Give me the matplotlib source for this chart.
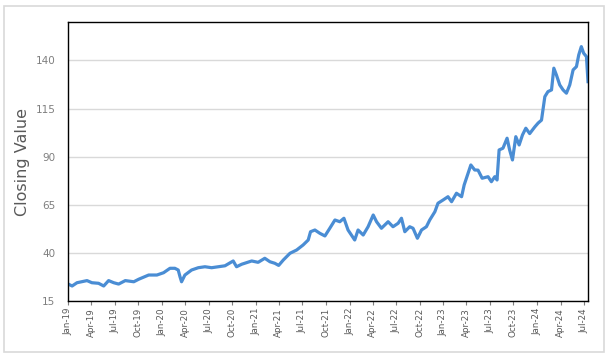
import numpy as np
import pandas as pd
import matplotlib
matplotlib.use("Agg")
import matplotlib.pyplot as plt
import matplotlib.dates as mdates
from matplotlib.patches import Rectangle

# closing values (irregular sample dates)
dates = [
    "2019-01-02", "2019-01-17", "2019-02-05", "2019-03-16", "2019-04-04", "2019-04-30",
    "2019-05-20", "2019-06-08", "2019-06-28", "2019-07-17", "2019-08-12", "2019-09-14",
    "2019-10-03", "2019-11-11", "2019-12-13", "2020-01-08", "2020-02-02", "2020-02-21",
    "2020-03-05", "2020-03-12", "2020-03-18", "2020-03-31", "2020-04-26", "2020-05-22",
    "2020-06-17", "2020-07-13", "2020-08-08", "2020-09-03", "2020-10-05", "2020-10-18",
    "2020-11-07", "2020-12-16", "2021-01-10", "2021-02-05", "2021-02-25", "2021-03-16",
    "2021-03-31", "2021-04-18", "2021-05-14", "2021-06-09", "2021-07-04", "2021-07-24",
    "2021-08-02", "2021-08-19", "2021-09-07", "2021-09-27", "2021-10-16", "2021-11-05",
    "2021-11-24", "2021-12-10", "2021-12-26", "2022-01-21", "2022-02-03", "2022-02-23",
    "2022-03-14", "2022-04-03", "2022-04-16", "2022-05-05", "2022-05-31", "2022-06-19",
    "2022-07-09", "2022-07-22", "2022-08-04", "2022-08-23", "2022-09-05", "2022-09-22",
    "2022-10-08", "2022-10-27", "2022-11-09", "2022-11-29", "2022-12-11", "2022-12-31",
    "2023-01-19", "2023-02-02", "2023-02-21", "2023-03-13", "2023-03-23", "2023-04-05",
    "2023-04-18", "2023-05-03", "2023-05-16", "2023-06-01", "2023-06-24", "2023-07-07",
    "2023-07-20", "2023-07-29", "2023-08-06", "2023-08-21", "2023-09-06", "2023-09-16",
    "2023-09-27", "2023-10-10", "2023-10-23", "2023-11-05", "2023-11-18", "2023-12-03",
    "2023-12-23", "2024-01-05", "2024-01-18", "2024-01-31", "2024-02-12", "2024-02-26",
    "2024-03-06", "2024-03-16", "2024-03-29", "2024-04-11", "2024-04-24", "2024-05-07",
    "2024-05-20", "2024-06-02", "2024-06-11", "2024-06-21", "2024-06-30", "2024-07-11",
    "2024-07-17",
]
closing = [
    23.8, 22.8, 24.5, 25.6, 24.5, 24.2,
    22.8, 25.6, 24.5, 23.8, 25.6, 25.0,
    26.3, 28.5, 28.5, 29.7, 32.0, 32.0,
    31.1, 27.6, 25.0, 28.5, 31.1, 32.3,
    32.8, 32.3, 32.8, 33.3, 35.8, 32.8,
    34.1, 35.8, 35.1, 37.2, 35.4, 34.6,
    33.5, 36.3, 39.8, 41.5, 44.1, 46.7,
    51.0, 51.9, 50.2, 48.8, 52.8, 57.1,
    56.2, 58.0, 51.9, 46.7, 51.9, 49.3,
    53.6, 59.7, 56.2, 52.8, 56.2, 53.6,
    55.4, 58.0, 51.0, 53.6, 52.8, 47.6,
    51.9, 53.6, 57.1, 61.4, 65.8, 67.5,
    69.2, 66.6, 71.0, 69.2, 75.3, 80.5,
    85.7, 83.1, 83.0, 78.8, 79.6, 77.0,
    79.6, 77.9, 93.5, 94.4, 99.6, 93.5,
    88.3, 100.4, 96.1, 101.3, 104.8, 102.0,
    105.5, 107.5, 109.0, 121.2, 123.8, 124.7,
    136.0, 132.5, 127.3, 124.7, 123.0, 127.3,
    135.1, 136.8, 142.9, 147.2, 143.8, 142.0,
    129.0,
]
yticks = [15, 40, 65, 90, 115, 140]

x = pd.to_datetime(dates)

fig = plt.figure(figsize=(6.12, 3.58), dpi=100)
fig.patches.append(Rectangle((4 / 612, 6 / 358), 600 / 612, 346 / 358, transform=fig.transFigure,
                             fill=False, edgecolor="#d9d9d9", linewidth=1.2))
ax = fig.add_axes([68 / 612, 1 - 301 / 358, 520 / 612, 279 / 358])

ax.plot(x, closing, color="#4a8dd4", linewidth=2.3, solid_joinstyle="round")

ax.set_ylim(15, 160)
ax.set_yticks(yticks)
ax.set_xlim(pd.Timestamp("2019-01-01"), pd.Timestamp("2024-07-17"))
ax.xaxis.set_major_locator(mdates.MonthLocator(bymonth=[1, 4, 7, 10]))
ax.xaxis.set_major_formatter(mdates.DateFormatter("%b-%y"))
ax.grid(axis="y", color="#d9d9d9", linewidth=1)
ax.set_axisbelow(True)
for s in ax.spines.values():
    s.set_color("black"); s.set_linewidth(1)
ax.tick_params(axis="y", length=0, pad=9, labelsize=7.5, labelcolor="#7f7f7f")
ax.tick_params(axis="x", length=3, width=0.8, color="#7f7f7f", pad=2, labelsize=6.3,
               labelcolor="#595959", labelrotation=90)
ax.set_ylabel("Closing Value", fontsize=11.5, color="#595959", labelpad=4)

fig.savefig("out.png", dpi=100, facecolor="white")
